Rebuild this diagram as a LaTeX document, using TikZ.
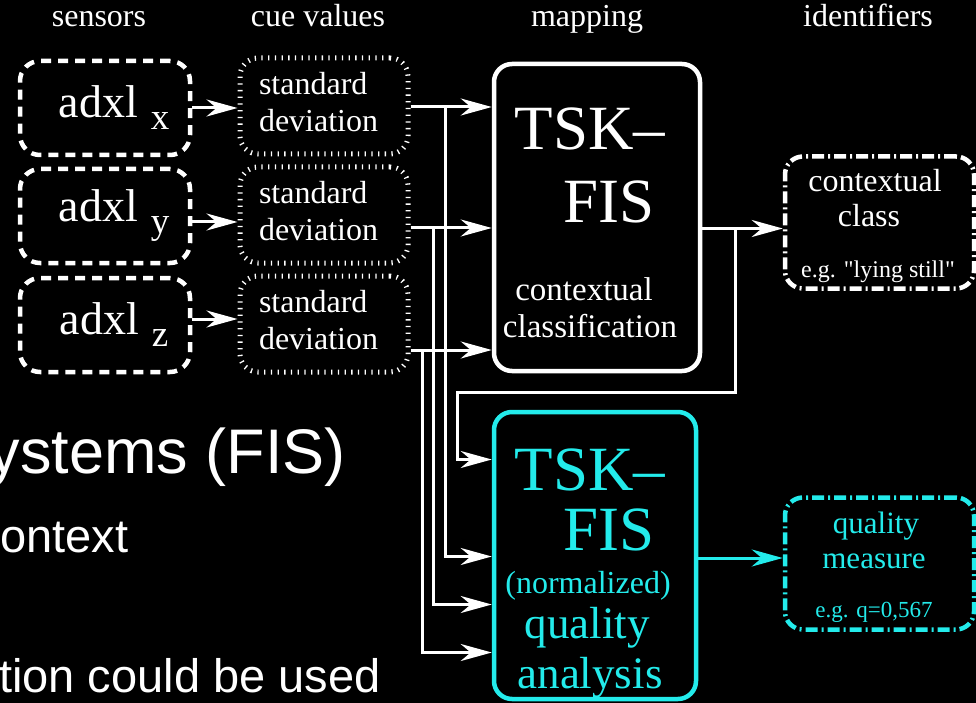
\documentclass[tikz,border=0pt]{standalone}
\usepackage{fontspec}
\setmainfont{Liberation Serif}
\newfontfamily\slidefont{Liberation Sans}
\usetikzlibrary{arrows.meta,calc}
\definecolor{qcyan}{RGB}{35,235,235}
\newcommand{\fsz}[1]{\fontsize{#1}{#1}\selectfont}

\begin{document}
\begin{tikzpicture}[x=1pt, y=-1pt, white,
    arr/.style={-{Stealth[length=31pt,width=17pt,inset=10pt]}, line width=3pt},
    lbl/.style={inner sep=0pt, anchor=base},
    sensbox/.style={draw, rounded corners=20pt, line width=4.5pt,
        dash pattern=on 10pt off 7pt, minimum width=170pt,
        minimum height=94pt, inner sep=0pt, font=\fsz{46}},
    cuebox/.style={draw, rounded corners=18pt, line width=5pt,
        dash pattern=on 1.3pt off 5.4pt, minimum width=168pt,
        minimum height=96pt, inner sep=0pt, align=left, text width=130pt,
        text depth=46pt, font=\fontsize{32}{37}\selectfont},
    fisbox/.style={draw, rounded corners=18pt, line width=4.5pt, inner sep=0pt},
    identbox/.style={draw, rounded corners=18pt, line width=4.5pt,
        dash pattern=on 12pt off 4pt on 2pt off 4pt, minimum width=189pt,
        minimum height=132pt, inner sep=0pt}
]
    % Background
    \fill[black] (0,0) rectangle (976,703);
    \clip (0,0) rectangle (976,703);

    % Column titles
    \node[lbl, font=\fsz{32}] (tsens) at (99,27) {sensors};
    \node[lbl, font=\fsz{32}] (tcue) at (318,27) {cue values};
    \node[lbl, font=\fsz{32}] (tmap) at (587,27) {mapping};
    \node[lbl, font=\fsz{32}] (tid) at (868,27) {identifiers};

    % Sensors
    \node[sensbox] (sensX) at (105,108) {\hspace*{18pt}adxl\hspace{13pt}\raisebox{-12pt}{\fsz{37}x}};
    \node[sensbox] (sensY) at (105,216) {\hspace*{18pt}adxl\hspace{13pt}\raisebox{-12pt}{\fsz{37}y}};
    \node[sensbox] (sensZ) at (105,325) {\hspace*{18pt}adxl\hspace{13pt}\raisebox{-12pt}{\fsz{37}z}};

    % Cue values
    \node[cuebox] (cueX) at (324,106) {standard\\deviation};
    \node[cuebox] (cueY) at (324,215) {standard\\deviation};
    \node[cuebox] (cueZ) at (324,324) {standard\\deviation};

    % Mapping: contextual classification
    \node[fisbox, minimum width=206pt, minimum height=307pt] (tskctx) at (597,217.5) {};
    \node[lbl, font=\fsz{63}] (ctxA) at (590,150) {TSK--};
    \node[lbl, font=\fsz{63}] (ctxB) at (609,223) {FIS};
    \node[lbl, font=\fsz{33}] (ctxC) at (584,300) {contextual};
    \node[lbl, font=\fsz{33}] (ctxD) at (590,337) {classification};

    % Mapping: quality analysis
    \begin{scope}[qcyan]
    \node[fisbox, minimum width=202pt, minimum height=287pt] (tskqual) at (595,555.5) {};
    \node[lbl, font=\fsz{63}] (qualA) at (590,490) {TSK--};
    \node[lbl, font=\fsz{63}] (qualB) at (609,550) {FIS};
    \node[lbl, font=\fsz{32}] (qualC) at (588,593) {(normalized)};
    \node[lbl, font=\fsz{45}] (qualD) at (587,638) {quality};
    \node[lbl, font=\fsz{45}] (qualE) at (590,688) {analysis};
    \end{scope}

    % Identifiers
    \node[identbox] (ctxclass) at (879.5,222.5) {};
    \node[lbl, font=\fsz{32}] (ccA) at (875,192) {contextual};
    \node[lbl, font=\fsz{32}] (ccB) at (869,227) {class};
    \node[lbl, font=\fsz{24}] (ccC) at (878,277) {e.g. \textquotedbl lying still\textquotedbl};
    \node[identbox, qcyan] (qualmeas) at (879.5,563.5) {};
    \node[lbl, qcyan, font=\fsz{31}] (qmA) at (876,533) {quality};
    \node[lbl, qcyan, font=\fsz{31}] (qmB) at (874,568) {measure};
    \node[lbl, qcyan, font=\fsz{23}] (qmC) at (874,617) {e.g. q=0,567};

    % Slide text behind the diagram
    \node[lbl, anchor=base east, font=\slidefont\fsz{63}] (sl1) at (346,473) {ystems (FIS)};
    \node[lbl, anchor=base west, font=\slidefont\fsz{47}] (sl2) at (0,552) {ontext};
    \node[lbl, anchor=base west, font=\slidefont\fsz{47}] (sl3) at (-1,692) {tion could be used};

    % Sensors to cue values
    \draw[arr] (sensX.east) -- (sensX.east -| cueX.west);
    \draw[arr] ($(sensY.east)+(0,6)$) -- ($(sensY.east -| cueY.west)+(0,6)$);
    \draw[arr] ($(sensZ.east)+(0,-6)$) -- ($(sensZ.east -| cueZ.west)+(0,-6)$);

    % Cue values to mapping
    \coordinate (outX) at ($(cueX.east)+(0,1)$);
    \coordinate (outY) at ($(cueY.east)+(0,13)$);
    \coordinate (outZ) at ($(cueZ.east)+(0,26)$);
    \coordinate (bx1) at (445,0);
    \coordinate (bx2) at (433,0);
    \coordinate (bx3) at (422,0);
    \coordinate (inQa) at ($(tskqual.west)+(0,-96)$);
    \coordinate (inQb) at ($(tskqual.west)+(0,1)$);
    \coordinate (inQc) at ($(tskqual.west)+(0,49)$);
    \coordinate (inQd) at ($(tskqual.west)+(0,97)$);
    \draw[arr] (outX) -- (outX -| tskctx.west);
    \draw[arr] (outY) -- (outY -| tskctx.west);
    \draw[arr] (outZ) -- (outZ -| tskctx.west);
    \draw[arr] (outX -| bx1) |- (inQb);
    \draw[arr] (outY -| bx2) |- (inQc);
    \draw[arr] (outZ -| bx3) |- (inQd);

    % Contextual class output and feedback
    \coordinate (ctxOut) at ($(tskctx.east)+(0,11)$);
    \coordinate (fbx) at (735,0);
    \coordinate (fbk) at (457,392);
    \draw[arr] (ctxOut) -- (ctxOut -| ctxclass.west);
    \draw[arr] (ctxOut -| fbx) |- (fbk) |- (inQa);

    % Quality output
    \coordinate (qOut) at ($(tskqual.east)+(0,2.5)$);
    \draw[arr, qcyan] (qOut) -- (qOut -| qualmeas.west);
\end{tikzpicture}
\end{document}
